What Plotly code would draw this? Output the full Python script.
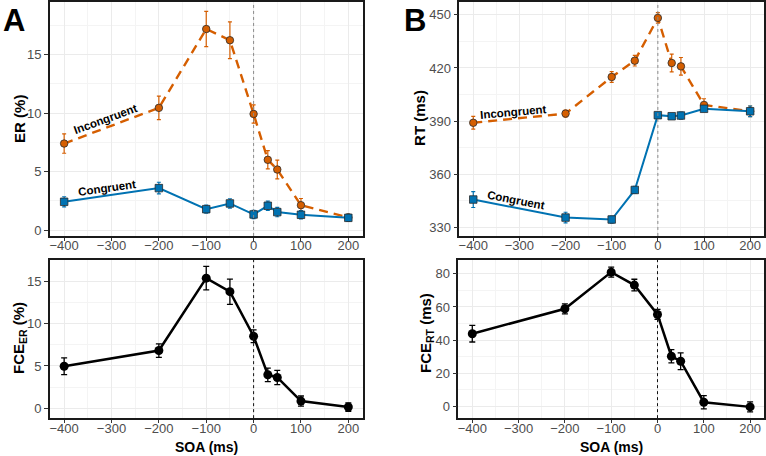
import plotly.graph_objects as go

# ---------------- data ----------------
soa = [-400, -200, -100, -50, 0, 30, 50, 100, 200]

er_incong = [7.40, 10.45, 17.19, 16.23, 9.93, 6.01, 5.18, 2.13, 1.08]
er_incong_se = [0.83, 1.00, 1.50, 1.57, 0.78, 0.78, 0.80, 0.57, 0.28]
er_cong = [2.42, 3.59, 1.79, 2.28, 1.34, 2.08, 1.54, 1.31, 1.05]
er_cong_se = [0.43, 0.50, 0.35, 0.40, 0.35, 0.40, 0.40, 0.35, 0.30]

rt_incong = [389.0, 394.2, 414.9, 424.1, 448.3, 422.8, 420.9, 399.1, 395.5]
rt_incong_se = [3.6, 2.0, 3.0, 3.0, 3.0, 5.0, 5.0, 3.5, 3.0]
rt_cong = [345.6, 335.4, 334.3, 351.0, 393.3, 392.7, 393.1, 396.9, 395.5]
rt_cong_se = [4.5, 3.0, 2.0, 2.0, 1.5, 1.5, 2.0, 1.5, 3.0]

fce_er = [4.97, 6.83, 15.43, 13.82, 8.53, 3.95, 3.63, 0.83, 0.12]
fce_er_se = [1.0, 0.8, 1.4, 1.5, 0.75, 0.8, 0.85, 0.6, 0.5]
fce_rt = [43.9, 58.9, 81.0, 73.2, 55.5, 30.3, 27.3, 2.6, -0.2]
fce_rt_se = [5.0, 3.0, 3.0, 3.5, 3.0, 4.0, 5.0, 4.0, 3.0]

ORANGE = "#D55E00"
BLUE = "#0072B2"
FONT = "Liberation Sans"

W, H = 766, 456


def xd(a, b):
    return [a / W, b / W]


def yd(top, bottom):
    return [1 - bottom / H, 1 - top / H]


fig = go.Figure()


def cond_trace(y, se, color, symbol, dash, xa, ya):
    fig.add_trace(go.Scatter(
        x=soa, y=y, xaxis=xa, yaxis=ya, mode="lines+markers",
        line=dict(color=color, width=2.4 if dash else 2, dash=dash or "solid"),
        marker=dict(color=color, size=7.5, symbol=symbol,
                    line=dict(color="#2b2b2b", width=0.8)),
        error_y=dict(type="data", array=se, visible=True, color=color,
                     thickness=1.2, width=2),
        showlegend=False, hoverinfo="skip"))


cond_trace(er_incong, er_incong_se, ORANGE, "circle", "9px,6px", "x", "y")
cond_trace(er_cong, er_cong_se, BLUE, "square", None, "x", "y")
cond_trace(rt_incong, rt_incong_se, ORANGE, "circle", "9px,6px", "x2", "y2")
cond_trace(rt_cong, rt_cong_se, BLUE, "square", None, "x2", "y2")

for y, se, xa, ya in [(fce_er, fce_er_se, "x3", "y3"), (fce_rt, fce_rt_se, "x4", "y4")]:
    fig.add_trace(go.Scatter(
        x=soa, y=y, xaxis=xa, yaxis=ya, mode="lines+markers",
        line=dict(color="black", width=2.5),
        marker=dict(color="black", size=9, symbol="circle"),
        error_y=dict(type="data", array=se, visible=True, color="black",
                     thickness=1.3, width=3),
        showlegend=False, hoverinfo="skip"))

GRID = "#ebebeb"
MINOR = "#f4f4f4"
TICKFONT = dict(family=FONT, size=13, color="#4d4d4d")


def xaxis(domain, anchor):
    return dict(domain=domain, anchor=anchor, range=[-430, 230], tick0=0, dtick=100,
                showgrid=True, gridcolor=GRID, gridwidth=1, zeroline=False,
                minor=dict(tick0=0, dtick=50, showgrid=True, gridcolor=MINOR, gridwidth=1),
                showline=True, mirror=True, linecolor="#1a1a1a", linewidth=1.6,
                ticks="outside", ticklen=3, tickcolor="#333333", tickwidth=1,
                tickfont=TICKFONT, tickformat="d", ticklabelstandoff=-6)


def yaxis(domain, anchor, rng, dt, t0=0):
    return dict(domain=domain, anchor=anchor, range=rng, tick0=t0, dtick=dt,
                showgrid=True, gridcolor=GRID, gridwidth=1, zeroline=False,
                minor=dict(tick0=t0, dtick=dt / 2, showgrid=True, gridcolor=MINOR, gridwidth=1),
                showline=True, mirror=True, linecolor="#1a1a1a", linewidth=1.6,
                ticks="outside", ticklen=4, tickcolor="#333333", tickwidth=1,
                tickfont=TICKFONT)


fig.update_layout(
    width=W, height=H, margin=dict(l=0, r=0, t=0, b=0),
    paper_bgcolor="white", plot_bgcolor="white",
    font=dict(family=FONT, color="black"),
    xaxis=xaxis(xd(49, 362), "y"),
    yaxis=yaxis(yd(2, 237), "x", [-0.5, 19.5], 5),
    xaxis2=xaxis(xd(459, 764), "y2"),
    yaxis2=yaxis(yd(2, 237), "x2", [325, 457.3], 30, 330),
    xaxis3=xaxis(xd(49, 362), "y3"),
    yaxis3=yaxis(yd(261, 420), "x3", [-1.2, 17.6], 5),
    xaxis4=xaxis(xd(458, 764), "y4"),
    yaxis4=yaxis(yd(261, 420), "x4", [-7, 88.4], 20),
)

# vertical reference line at SOA = 0
for xr, yr, col in [("x", "y", "#8a8a8a"), ("x2", "y2", "#8a8a8a"),
                    ("x3", "y3", "#111111"), ("x4", "y4", "#111111")]:
    fig.add_shape(type="line", xref=xr, yref=yr + " domain", x0=0, x1=0, y0=0, y1=1,
                  line=dict(color=col, width=1, dash="dot"), layer="above")

ann = []
# panel letters
ann.append(dict(text="<b>A</b>", x=0 / W, y=1 - 1 / H, xref="paper", yref="paper",
                xanchor="left", yanchor="top", showarrow=False,
                font=dict(family=FONT, size=31, color="black")))
ann.append(dict(text="<b>B</b>", x=402 / W, y=1 - 1 / H, xref="paper", yref="paper",
                xanchor="left", yanchor="top", showarrow=False,
                font=dict(family=FONT, size=31, color="black")))


# axis titles
def ytitle(text, px, py):
    ann.append(dict(text=text, x=px / W, y=1 - py / H, xref="paper", yref="paper",
                    textangle=-90, showarrow=False, xanchor="center", yanchor="middle",
                    font=dict(family=FONT, size=15, color="black")))


ytitle("<b>ER (%)</b>", 18.5, 119)
ytitle("<b>RT (ms)</b>", 419, 118)
ytitle("<b>FCE<sub>ER</sub> (%)</b>", 18.5, 339)
ytitle("<b>FCE<sub>RT</sub> (ms)</b>", 426, 334)

for cx in (205.5, 611):
    ann.append(dict(text="<b>SOA (ms)</b>", x=cx / W, y=1 - 448.5 / H, xref="paper",
                    yref="paper", showarrow=False, xanchor="center", yanchor="middle",
                    font=dict(family=FONT, size=14, color="black")))


# in-plot condition labels
def lab(text, x, y, xr, yr, ang):
    ann.append(dict(text="<b>" + text + "</b>", x=x, y=y, xref=xr, yref=yr,
                    textangle=ang, showarrow=False, xanchor="center", yanchor="middle",
                    font=dict(family=FONT, size=11.5, color="black")))


lab("Incongruent", -313, 9.54, "x", "y", -20)
lab("Congruent", -310, 3.56, "x", "y", -8)
lab("Incongruent", -313, 395.2, "x2", "y2", -5)
lab("Congruent", -308, 345.6, "x2", "y2", 11)

fig.update_layout(annotations=ann)

fig.write_html("out.html")
